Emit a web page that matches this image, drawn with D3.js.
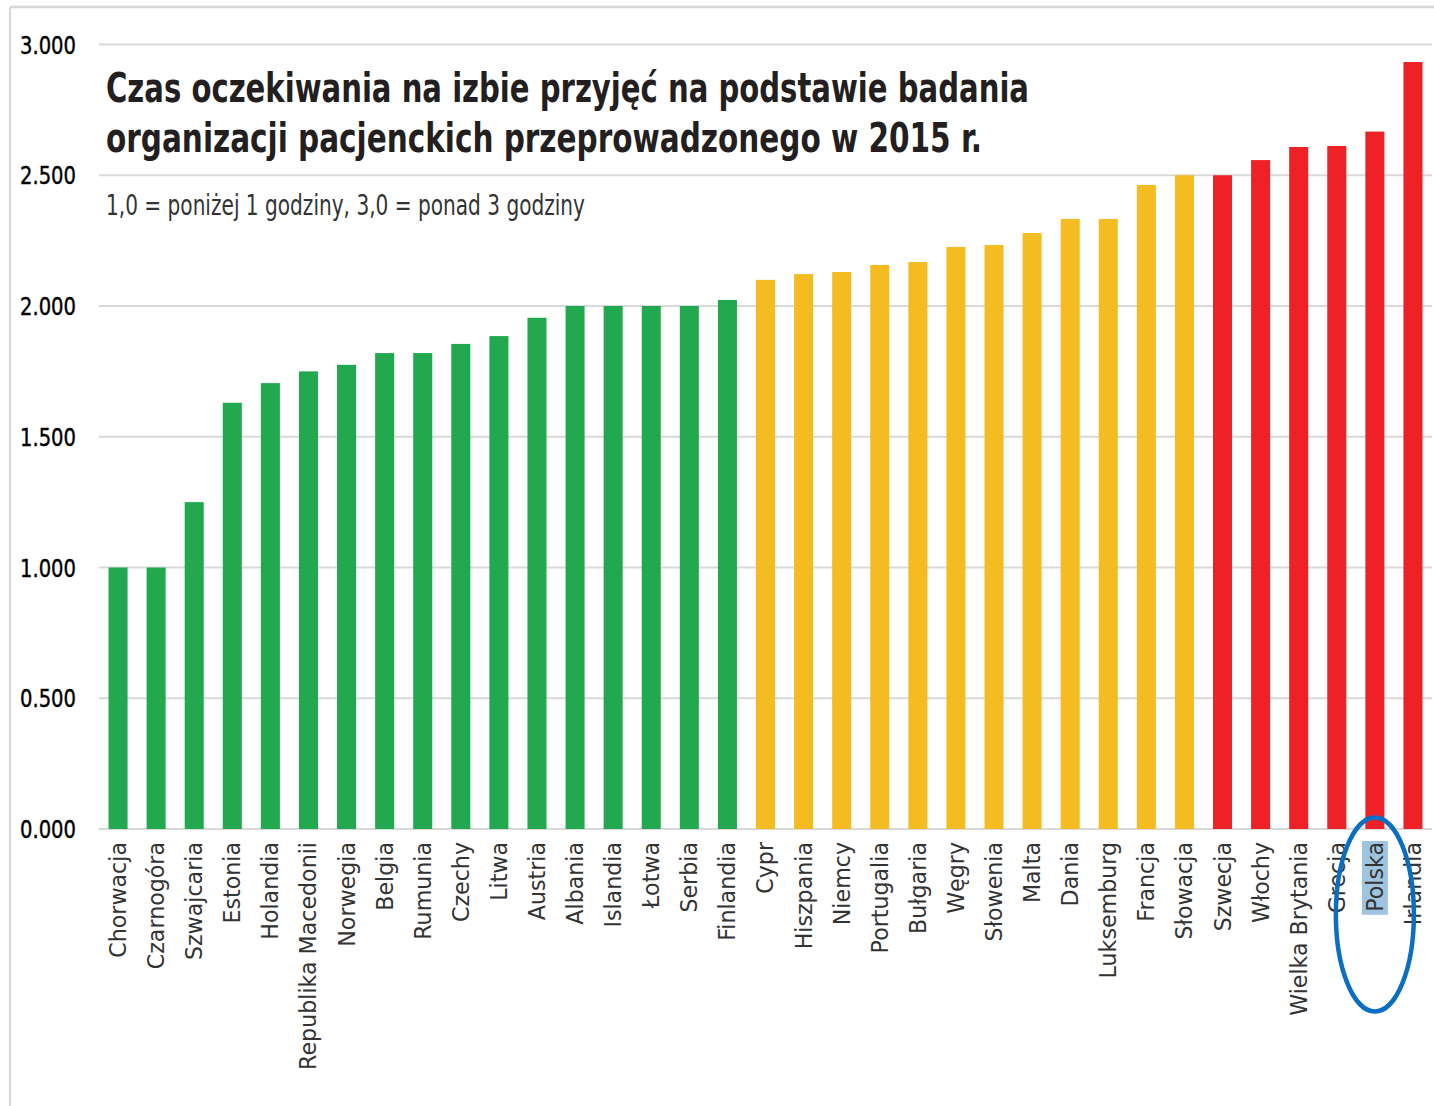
<!DOCTYPE html>
<html>
<head>
<meta charset="utf-8">
<script src="https://cdn.jsdelivr.net/npm/d3@7"></script>
<style>
html,body{margin:0;padding:0;background:#fff;}
svg{display:block;}
</style>
</head>
<body>
<svg id="chart" width="1434" height="1106"></svg>
<script>
const categories = ["Chorwacja","Czarnogóra","Szwajcaria","Estonia","Holandia","Republika Macedonii","Norwegia","Belgia","Rumunia","Czechy","Litwa","Austria","Albania","Islandia","Łotwa","Serbia","Finlandia","Cypr","Hiszpania","Niemcy","Portugalia","Bułgaria","Węgry","Słowenia","Malta","Dania","Luksemburg","Francja","Słowacja","Szwecja","Włochy","Wielka Brytania","Grecja","Polska","Irlandia"];
const values = [1.0,1.0,1.25,1.63,1.705,1.75,1.775,1.82,1.82,1.855,1.885,1.955,2.0,2.0,2.0,2.0,2.023,2.1,2.122,2.13,2.157,2.168,2.226,2.233,2.279,2.333,2.333,2.463,2.5,2.5,2.558,2.608,2.612,2.667,2.933];
const groups = ["green","green","green","green","green","green","green","green","green","green","green","green","green","green","green","green","green","yellow","yellow","yellow","yellow","yellow","yellow","yellow","yellow","yellow","yellow","yellow","yellow","red","red","red","red","red","red"];
const yTicks = [0,0.5,1.0,1.5,2.0,2.5,3.0];
const titleLines = ["Czas oczekiwania na izbie przyjęć na podstawie badania","organizacji pacjenckich przeprowadzonego w 2015 r."];
const subtitle = "1,0 = poniżej 1 godziny, 3,0 = ponad 3 godziny";
const highlighted = "Polska";

const colorMap = {green:"#22a84e", yellow:"#f5bc22", red:"#ee2127"};
const svg = d3.select("#chart");

// frame
svg.append("line").attr("x1",10).attr("x2",1434).attr("y1",7).attr("y2",7).attr("stroke","#d6d6d6").attr("stroke-width",2.5);
svg.append("line").attr("x1",10).attr("x2",10).attr("y1",7).attr("y2",1106).attr("stroke","#d6d6d6").attr("stroke-width",2);

const x = d3.scaleBand().domain(categories).range([99,1432]).paddingInner(0.5).paddingOuter(0.25);
const y = d3.scaleLinear().domain([0,3]).range([829,44.5]);

// grid
svg.append("g").selectAll("line").data(yTicks).join("line")
  .attr("x1",99).attr("x2",1432)
  .attr("y1",d=>y(d)).attr("y2",d=>y(d))
  .attr("stroke","#d9d9d9").attr("stroke-width",2);

// y labels
svg.append("g").selectAll("text").data(yTicks).join("text")
  .attr("x",76).attr("y",d=>y(d)+9)
  .attr("text-anchor","end")
  .attr("font-family","'DejaVu Sans Condensed','DejaVu Sans',sans-serif")
  .attr("font-size",25).attr("fill","#000")
  .attr("stroke","#000").attr("stroke-width",0.4)
  .attr("textLength",56).attr("lengthAdjust","spacingAndGlyphs")
  .text(d=>d3.format(".3f")(d));

// bars
svg.append("g").selectAll("rect").data(categories).join("rect")
  .attr("x",d=>x(d)).attr("width",x.bandwidth())
  .attr("y",(d,i)=>y(values[i])).attr("height",(d,i)=>y(0)-y(values[i]))
  .attr("fill",(d,i)=>colorMap[groups[i]]);

// x labels
const xl = svg.append("g");
const hl = xl.append("rect").attr("fill","#9ec4df");
const labels = xl.selectAll("text").data(categories).join("text")
  .attr("transform",d=>`translate(${x(d)+x.bandwidth()/2},842) rotate(-90)`)
  .attr("text-anchor","end").attr("dy","0.36em")
  .attr("font-family","'DejaVu Sans',Verdana,sans-serif")
  .attr("font-size",18).attr("fill","#333")
  .text(d=>d);
// fit size so that "Republika Macedonii" spans ~228px
const refNode = labels.filter(d=>d==="Republika Macedonii").node();
const fs = 18*228/refNode.getComputedTextLength();
labels.attr("font-size",fs);
const pNode = labels.filter(d=>d===highlighted).node();
const pLen = pNode.getComputedTextLength();
const pc = x(highlighted)+x.bandwidth()/2;
hl.attr("x",pc-13).attr("width",26).attr("y",841).attr("height",pLen+4);

// ellipse
svg.append("ellipse").attr("cx",pc).attr("cy",914.5).attr("rx",39).attr("ry",97)
  .attr("fill","none").attr("stroke","#0a6fc2").attr("stroke-width",4.5);

// title
const tW = [923,876];
const tY = [102,152];
titleLines.forEach((t,i)=>{
  svg.append("text").attr("x",106).attr("y",tY[i])
    .attr("font-family","'DejaVu Sans Condensed','DejaVu Sans',sans-serif")
    .attr("font-weight","bold").attr("font-size",40).attr("fill","#231f20")
    .attr("textLength",tW[i]).attr("lengthAdjust","spacingAndGlyphs")
    .text(t);
});
svg.append("text").attr("x",106).attr("y",215)
  .attr("font-family","'Liberation Sans Narrow','DejaVu Sans Condensed',sans-serif")
  .attr("font-size",28).attr("fill","#333")
  .attr("textLength",479).attr("lengthAdjust","spacingAndGlyphs")
  .text(subtitle);
</script>
</body>
</html>
